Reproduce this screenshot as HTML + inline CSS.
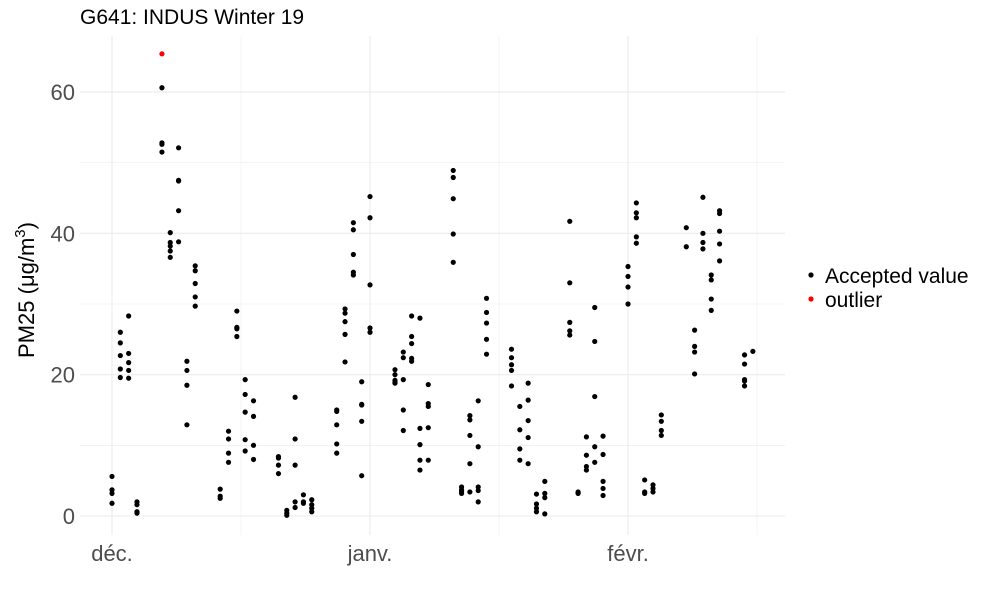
<!DOCTYPE html>
<html><head><meta charset="utf-8"><style>
body{margin:0;background:#fff;}
svg{font-family:"Liberation Sans",sans-serif;}
</style></head><body>
<svg id="chart" width="1000" height="600">
<rect width="1000" height="600" fill="#fff"/>
<g id="grid"></g><g id="pts"></g><g id="axes"></g>
<text x="80" y="24" font-size="21" fill="#000">G641: INDUS Winter 19</text>
<text transform="translate(34,290) rotate(-90)" text-anchor="middle" font-size="22" fill="#000">PM25 (μg/m<tspan dy="-9" font-size="15">3</tspan><tspan dy="9">)</tspan></text>
<g>
<circle cx="811" cy="275" r="2.6" fill="#000"/>
<text x="825" y="283" font-size="21">Accepted value</text>
<circle cx="811" cy="299" r="2.6" fill="#f00"/>
<text x="825" y="307" font-size="21">outlier</text>
</g>
</svg>
<script>
const days=[0,0,0,0, 1,1,1,1,1, 2,2,2,2,2, 3,3,3,3, 6,6,6,6, 7,7,7,7,7, 8,8,8,8,8, 9,9,9,9, 10,10,10,10,10, 13,13,13, 14,14,14,14, 15,15,15,15, 16,16,16,16,16, 17,17,17,17, 20,20,20,20, 21,21,21, 22,22,22,22,22, 23,23,23, 24,24,24,24, 27,27,27,27,27, 28,28,28,28,28, 29,29,29,29,29, 30,30,30,30,30, 31,31,31,31,31, 34,34,34,34,34, 35,35,35,35,35, 36,36,36,36,36, 37,37,37,37,37, 38,38,38,38,38, 41,41,41,41,41, 42,42,42,42, 43,43,43,43,43, 44,44,44,44,44, 45,45,45,45,45, 48,48,48,48,48, 49,49,49,49, 50,50,50,50,50, 51,51,51,51, 52,52,52,52, 55,55,55,55,55, 56,56,56, 57,57,57,57, 58,58,58,58,58, 59,59,59,59,59, 62,62,62,62, 63,63,63,63,63, 64,64,64, 65,65,65, 66,66,66,66, 69,69, 70,70,70,70, 71,71,71,71, 72,72,72,72, 73,73,73,73,73, 76,76,76,76,76, 77];
const values=[5.6,3.7,3.2,1.8, 26.0,24.5,22.7,20.8,19.6, 28.3,23.0,21.7,20.6,19.5, 2.0,1.6,0.6,0.4, 60.6,52.8,52.6,51.5, 40.1,38.7,38.2,37.5,36.6, 52.1,47.5,47.4,43.2,38.8, 21.9,20.6,18.5,12.9, 35.4,34.7,32.9,31.0,29.7, 3.8,2.8,2.5, 12.0,10.9,8.9,7.6, 29.0,26.7,26.5,25.4, 19.3,17.2,14.7,10.8,9.2, 16.3,14.1,10.0,8.0, 8.4,8.2,7.2,6.0, 0.8,0.4,0.1, 16.8,10.9,7.2,2.0,1.2, 3.0,2.0,1.8, 2.3,1.6,1.1,0.6, 15.0,14.8,12.9,10.2,8.9, 29.3,28.7,27.5,25.7,21.8, 41.5,40.5,37.0,34.5,34.1, 19.0,15.8,15.7,13.4,5.7, 45.2,42.2,32.7,26.6,26.0, 20.7,20.0,19.2,18.9,18.8, 23.2,22.4,19.3,15.0,12.1, 28.3,25.4,24.4,22.3,21.9, 28.0,12.4,10.1,7.9,6.5, 18.6,15.9,15.5,12.5,7.9, 48.9,47.9,44.9,39.9,35.9, 4.1,3.7,3.2,3.5, 14.2,13.6,11.4,7.4,3.4, 16.3,9.8,4.1,3.6,2.0, 30.8,28.8,27.3,25.0,22.9, 23.6,22.4,21.4,20.6,18.4, 15.5,12.2,9.5,7.9, 18.8,16.4,13.5,11.1,7.4, 3.1,1.7,1.1,0.6, 4.9,3.2,2.6,0.3, 41.7,33.0,27.4,26.2,25.6, 3.4,3.2,3.3, 11.2,8.6,7.0,6.5, 29.5,24.7,16.9,9.8,7.6, 11.3,8.7,4.9,3.9,2.9, 35.3,33.9,32.4,30.0, 44.3,42.9,42.2,39.5,38.6, 5.1,3.4,3.2, 4.4,3.9,3.4, 14.3,13.4,12.1,11.4, 40.8,38.1, 26.3,24.0,23.2,20.1, 45.1,40.0,38.7,37.8, 34.1,33.4,30.7,29.1, 43.2,42.8,40.3,38.5,36.1, 22.8,21.5,19.3,19.1,18.4, 23.3];
const outlierDays=[6];
const outlierValues=[65.4];
const yTicks=[0,20,40,60];
const xTickDays=[0,31,62];
const xTickLabels=["déc.","janv.","févr."];
const NS="http://www.w3.org/2000/svg";
const X0=80,X1=785,Y0=36,Y1=535;
const xs=d=>112+d*8.323;
const ys=v=>516-v*7.067;
function mk(tag,attrs,parent){const e=document.createElementNS(NS,tag);for(const k in attrs)e.setAttribute(k,attrs[k]);parent.appendChild(e);return e;}
const grid=document.getElementById('grid'),pts=document.getElementById('pts'),axes=document.getElementById('axes');
for(let v=-0;v<=65;v+=10){const major=v%20===0;
 const l=mk('line',{x1:X0,x2:X1,y1:ys(v),y2:ys(v),stroke:'#ebebeb','stroke-width':major?1.1:0.55},grid);
 
 }
for(let d=0;d<=80;d+=15.5){const major=Math.round(d)%31===0;
 const l=mk('line',{x1:xs(d),x2:xs(d),y1:Y0,y2:Y1,stroke:'#ebebeb','stroke-width':major?1.1:0.55},grid);
 
 }
yTicks.forEach(v=>{const t=mk('text',{x:75,y:ys(v)+8,'text-anchor':'end','font-size':22,fill:'#4d4d4d'},axes);t.textContent=v;
 
 });
xTickDays.forEach((d,i)=>{const t=mk('text',{x:xs(d),y:561,'text-anchor':'middle','font-size':22,fill:'#4d4d4d'},axes);t.textContent=xTickLabels[i];
 
 });
days.forEach((d,i)=>{const c=mk('circle',{cx:xs(d),cy:ys(values[i]),r:2.6,fill:'#000'},pts);
 
 });
outlierDays.forEach((d,i)=>{const c=mk('circle',{cx:xs(d),cy:ys(outlierValues[i]),r:2.6,fill:'#f00'},pts);
 
 });
</script>
</body></html>
